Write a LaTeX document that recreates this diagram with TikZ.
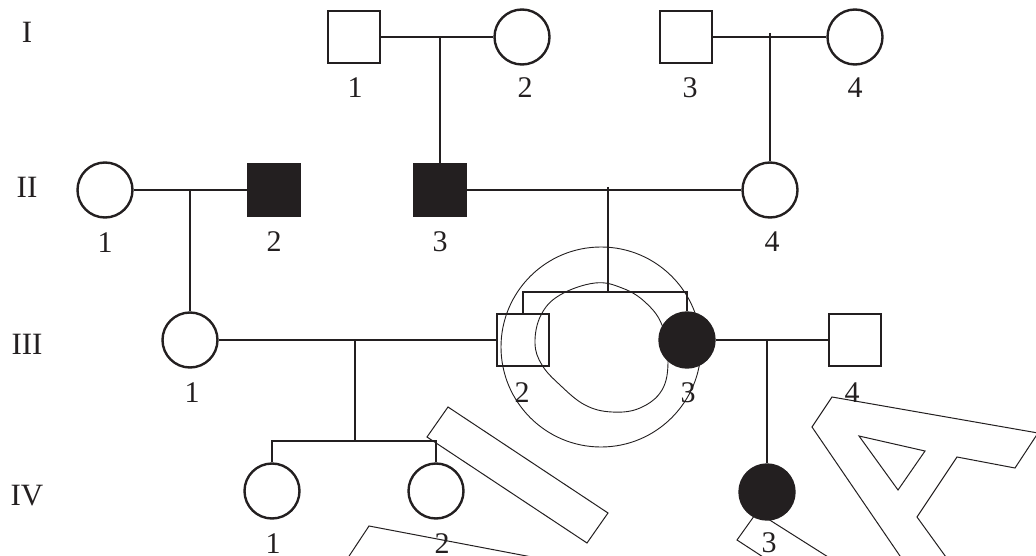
\documentclass[tikz,border=0pt]{standalone}
\usepackage{fontspec}
\setmainfont{Liberation Serif}
\definecolor{ink}{RGB}{35,31,32}
\begin{document}
\begin{tikzpicture}[x=1pt,y=-1pt,
  ped/.style={line width=2.4pt, draw=ink},
  male/.style={ped, rectangle, minimum width=52pt, minimum height=52pt, inner sep=0pt},
  female/.style={ped, circle, minimum size=55pt, inner sep=0pt},
  aff/.style={fill=ink},
  lbl/.style={inner sep=0pt, font=\fontsize{30}{30}\selectfont, text=ink},
  gen/.style={inner sep=0pt, font=\fontsize{31}{31}\selectfont, text=ink},
  wm/.style={line width=1pt, draw=ink, line join=miter},
  ring/.style={line width=0.9pt, draw=ink}]
\clip (0,0) rectangle (1036,556);
\fill[white] (0,0) rectangle (1036,556);

% watermark outlines
\draw[wm] (448,407) -- (608,513) -- (587,543) -- (427,437) -- cycle;
\draw[wm] (320,600) -- (369,526) -- (700,589);
\draw[wm] (896,600) -- (757,512) -- (737,540) -- (829,600);
\draw[wm] (930,600) -- (812,427) -- (832,397) -- (1038,433) -- (1015,468) -- (957,457) -- (917,517) -- (977,600);
\draw[wm] (859,436) -- (925,451) -- (898,490) -- cycle;

% rings
\draw[ring] (601,347) circle[radius=100pt];
\draw[ring] plot[smooth cycle, tension=0.65] coordinates {(595,283) (622,288) (645,302) (662,325) (668,360) (662,390) (640,408) (612,412) (585,405) (560,385) (542,365) (535,343) (541,315) (560,295)};

% generation labels
\node[gen] (gI) at (27,32) {I};
\node[gen] (gII) at (27,187) {II};
\node[gen] (gIII) at (27,344) {III};
\node[gen] (gIV) at (27,496) {IV};

% generation I
\node[male] (I1) at (354,37) {};
\node[female] (I2) at (522,37) {};
\node[male] (I3) at (686,37) {};
\node[female] (I4) at (855,37) {};
% generation II
\node[female] (II1) at (105,190) {};
\node[male,aff] (II2) at (274,190) {};
\node[male,aff] (II3) at (440,190) {};
\node[female] (II4) at (770,190) {};
% generation III
\node[female] (III1) at (190,340) {};
\node[male] (III2) at (523,340) {};
\node[female,aff] (III3) at (687,340) {};
\node[male] (III4) at (855,340) {};
% generation IV
\node[female] (IV1) at (272,491) {};
\node[female] (IV2) at (436,491) {};
\node[female,aff] (IV3) at (767,492) {};

% connectors
\coordinate (mI12) at (440,37);
\coordinate (mI34) at (770,33);
\coordinate (mII12) at (190,190);
\coordinate (mII34) at (608,187);
\coordinate (twin) at (608,292);
\coordinate (mIII12) at (355,340);
\coordinate (sibIV) at (355,441);
\coordinate (mIII34) at (767,340);

\draw[ped] (I1) -- (I2);
\draw[ped] (I3) -- (I4);
\draw[ped] (mI12) -- (II3);
\draw[ped] (mI34) -- (II4);
\draw[ped] (II1) -- (II2);
\draw[ped] (II3) -- (II4);
\draw[ped] (mII12) -- (III1);
\draw[ped] (mII34) -- (twin);
\draw[ped] (III2) |- (twin) -| (III3);
\draw[ped] (III1) -- (III2);
\draw[ped] (III3) -- (III4);
\draw[ped] (mIII12) -- (sibIV);
\draw[ped] (IV1) |- (sibIV) -| (IV2);
\draw[ped] (mIII34) -- (IV3);

% individual labels
\node[lbl] (lI1) at (355,88) {1};
\node[lbl] (lI2) at (525,88) {2};
\node[lbl] (lI3) at (690,88) {3};
\node[lbl] (lI4) at (855,88) {4};
\node[lbl] (lII1) at (105,243) {1};
\node[lbl] (lII2) at (274,242) {2};
\node[lbl] (lII3) at (440,242) {3};
\node[lbl] (lII4) at (772,242) {4};
\node[lbl] (lIII1) at (192,393) {1};
\node[lbl] (lIII2) at (522,393) {2};
\node[lbl] (lIII3) at (688,393) {3};
\node[lbl] (lIII4) at (852,393) {4};
\node[lbl] (lIV1) at (273,544) {1};
\node[lbl] (lIV2) at (442,544) {2};
\node[lbl] (lIV3) at (769,543) {3};
\end{tikzpicture}
\end{document}
